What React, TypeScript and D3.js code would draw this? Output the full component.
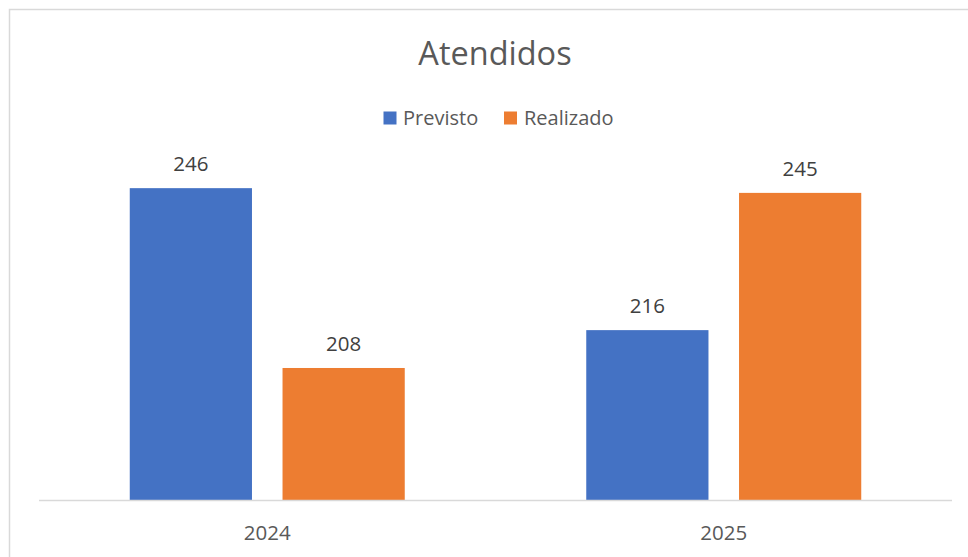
import React from "react";
import * as d3 from "d3";

const years = ["2024", "2025"];
const series = ["Previsto", "Realizado"];
const previsto = [246, 216];
const realizado = [208, 245];
const colors = ["#4472C4", "#ED7D31"];

const width = 968;
const height = 557;
const font = "'Open Sans', sans-serif";
const textColor = "#595959";

const App = () => {
  const values = [previsto, realizado];

  // plot area as in the original (axis min 180, not zero)
  const x0 = d3
    .scaleBand<string>()
    .domain(years)
    .range([39, 952])
    .paddingInner(0.3976)
    .paddingOuter(0.1988);

  const x1 = d3
    .scaleBand<string>()
    .domain(series)
    .range([0, x0.bandwidth()])
    .paddingInner(0.2);

  const y = d3.scaleLinear().domain([180, 260]).range([500.5, 121.9]);

  return (
    <svg
      width={width}
      height={height}
      style={{ position: "absolute", left: 0, top: 0, background: "#fff" }}
    >
      <rect x={9.5} y={9.5} width={1000} height={600} fill="#fff" stroke="#d9d9d9" strokeWidth={1.5} />

      <text x={495} y={65} textAnchor="middle" fontFamily={font} fontSize={32.5} fill={textColor}>
        Atendidos
      </text>

      {/* legend */}
      <g fontFamily={font} fontSize={20} fill={textColor}>
        <rect x={383.5} y={111.5} width={13} height={13} fill={colors[0]} />
        <text x={403} y={124.5}>{series[0]}</text>
        <rect x={504} y={111.5} width={13} height={13} fill={colors[1]} />
        <text x={524} y={124.5}>{series[1]}</text>
      </g>

      {years.map((yr, i) => (
        <g key={yr} transform={`translate(${x0(yr)},0)`}>
          {series.map((s, j) => {
            const v = values[j][i];
            const bx = x1(s)!;
            return (
              <g key={s}>
                <rect x={bx} y={y(v)} width={x1.bandwidth()} height={y(180) - y(v)} fill={colors[j]} />
                <text
                  x={bx + x1.bandwidth() / 2}
                  y={y(v) - 17}
                  textAnchor="middle"
                  fontFamily={font}
                  fontSize={20.5}
                  fill="#404040"
                >
                  {v}
                </text>
              </g>
            );
          })}
        </g>
      ))}

      <line x1={39} x2={952} y1={500.5} y2={500.5} stroke="#d9d9d9" strokeWidth={1.5} />

      {years.map((yr) => (
        <text
          key={yr}
          x={x0(yr)! + x0.bandwidth() / 2}
          y={540}
          textAnchor="middle"
          fontFamily={font}
          fontSize={20.5}
          fill={textColor}
        >
          {yr}
        </text>
      ))}
    </svg>
  );
};

export default App;
